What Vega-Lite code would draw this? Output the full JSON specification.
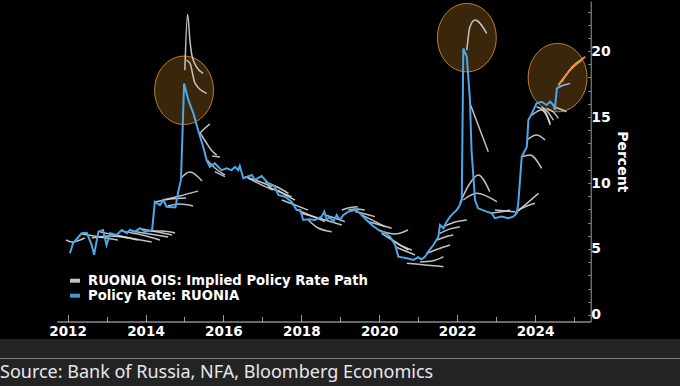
{
  "$schema": "https://vega.github.io/schema/vega-lite/v6.json",
  "background": "#000000",
  "padding": 0,
  "spacing": 0,
  "bounds": "flush",
  "config": {"axis": {"grid": false}, "view": {"stroke": null}},
  "datasets": {
    "highlights": [
      {"year": 2014.99, "rate": 17.03},
      {"year": 2022.25, "rate": 21.02},
      {"year": 2024.58, "rate": 17.99}
    ],
    "ruonia": [
      {"year": 2012.06, "rate": 4.67}, {"year": 2012.14, "rate": 5.43}, {"year": 2012.36, "rate": 6.19}, {"year": 2012.49, "rate": 6.23},
      {"year": 2012.62, "rate": 5.30}, {"year": 2012.68, "rate": 4.55}, {"year": 2012.79, "rate": 6.31}, {"year": 2012.91, "rate": 6.44},
      {"year": 2013.00, "rate": 5.30}, {"year": 2013.09, "rate": 6.19}, {"year": 2013.26, "rate": 6.06}, {"year": 2013.39, "rate": 6.44},
      {"year": 2013.52, "rate": 6.19}, {"year": 2013.60, "rate": 6.44}, {"year": 2013.73, "rate": 6.31}, {"year": 2013.86, "rate": 6.57},
      {"year": 2013.99, "rate": 6.31}, {"year": 2014.12, "rate": 6.39}, {"year": 2014.17, "rate": 6.44}, {"year": 2014.24, "rate": 8.58},
      {"year": 2014.37, "rate": 8.33}, {"year": 2014.46, "rate": 8.71}, {"year": 2014.54, "rate": 8.20}, {"year": 2014.71, "rate": 8.16},
      {"year": 2014.77, "rate": 8.16}, {"year": 2014.84, "rate": 9.34}, {"year": 2014.91, "rate": 10.23}, {"year": 2014.95, "rate": 13.77},
      {"year": 2014.99, "rate": 17.55}, {"year": 2015.10, "rate": 16.29}, {"year": 2015.23, "rate": 15.28}, {"year": 2015.35, "rate": 14.02},
      {"year": 2015.48, "rate": 12.75}, {"year": 2015.57, "rate": 11.74}, {"year": 2015.65, "rate": 11.23}, {"year": 2015.78, "rate": 11.49},
      {"year": 2015.95, "rate": 10.98}, {"year": 2016.08, "rate": 11.11}, {"year": 2016.21, "rate": 10.98}, {"year": 2016.30, "rate": 11.23},
      {"year": 2016.38, "rate": 10.98}, {"year": 2016.42, "rate": 11.29}, {"year": 2016.51, "rate": 10.36}, {"year": 2016.73, "rate": 10.61},
      {"year": 2016.81, "rate": 10.23}, {"year": 2016.98, "rate": 10.53}, {"year": 2017.15, "rate": 9.98}, {"year": 2017.32, "rate": 9.72},
      {"year": 2017.41, "rate": 9.09}, {"year": 2017.58, "rate": 8.96}, {"year": 2017.75, "rate": 8.58}, {"year": 2017.88, "rate": 7.95},
      {"year": 2017.97, "rate": 7.95}, {"year": 2018.05, "rate": 7.20}, {"year": 2018.18, "rate": 7.25}, {"year": 2018.35, "rate": 7.20},
      {"year": 2018.52, "rate": 7.45}, {"year": 2018.59, "rate": 7.83}, {"year": 2018.65, "rate": 7.25}, {"year": 2018.74, "rate": 7.40},
      {"year": 2018.82, "rate": 7.07}, {"year": 2018.91, "rate": 7.58}, {"year": 2018.99, "rate": 7.20}, {"year": 2019.08, "rate": 7.58},
      {"year": 2019.21, "rate": 7.83}, {"year": 2019.38, "rate": 7.95}, {"year": 2019.46, "rate": 7.83}, {"year": 2019.63, "rate": 7.33},
      {"year": 2019.81, "rate": 6.82}, {"year": 2019.98, "rate": 6.44}, {"year": 2020.15, "rate": 6.19}, {"year": 2020.28, "rate": 5.93},
      {"year": 2020.41, "rate": 5.30}, {"year": 2020.49, "rate": 4.42}, {"year": 2020.71, "rate": 4.30}, {"year": 2020.88, "rate": 4.17},
      {"year": 2021.00, "rate": 4.37}, {"year": 2021.09, "rate": 4.22}, {"year": 2021.18, "rate": 4.42}, {"year": 2021.26, "rate": 4.80},
      {"year": 2021.39, "rate": 5.30}, {"year": 2021.52, "rate": 5.93}, {"year": 2021.56, "rate": 6.82}, {"year": 2021.65, "rate": 6.57},
      {"year": 2021.73, "rate": 7.07}, {"year": 2021.82, "rate": 7.45}, {"year": 2021.90, "rate": 7.70}, {"year": 2021.99, "rate": 7.95},
      {"year": 2022.07, "rate": 8.33}, {"year": 2022.12, "rate": 8.71}, {"year": 2022.16, "rate": 20.20}, {"year": 2022.25, "rate": 19.57},
      {"year": 2022.33, "rate": 16.29}, {"year": 2022.37, "rate": 12.50}, {"year": 2022.46, "rate": 8.71}, {"year": 2022.54, "rate": 8.08},
      {"year": 2022.76, "rate": 7.83}, {"year": 2022.89, "rate": 7.70}, {"year": 2022.97, "rate": 7.33}, {"year": 2023.14, "rate": 7.45},
      {"year": 2023.31, "rate": 7.33}, {"year": 2023.44, "rate": 7.45}, {"year": 2023.53, "rate": 7.70}, {"year": 2023.57, "rate": 8.46},
      {"year": 2023.66, "rate": 11.99}, {"year": 2023.79, "rate": 12.75}, {"year": 2023.83, "rate": 14.77}, {"year": 2023.92, "rate": 15.28},
      {"year": 2024.04, "rate": 16.04}, {"year": 2024.17, "rate": 16.16}, {"year": 2024.30, "rate": 15.91}, {"year": 2024.39, "rate": 16.16},
      {"year": 2024.47, "rate": 15.91}, {"year": 2024.51, "rate": 15.53}, {"year": 2024.56, "rate": 17.17}, {"year": 2024.64, "rate": 17.30},
      {"year": 2024.73, "rate": 17.42}
    ],
    "latest": [
      {"year": 2024.60, "rate": 17.42}, {"year": 2024.94, "rate": 18.69}, {"year": 2025.29, "rate": 19.57}
    ],
    "ois": [
      {"path": "g1", "year": 2011.96, "rate": 5.68}, {"path": "g1", "year": 2012.11, "rate": 5.53}, {"path": "g1", "year": 2012.44, "rate": 5.83},
      {"path": "g2", "year": 2012.37, "rate": 6.14}, {"path": "g2", "year": 2012.83, "rate": 5.91}, {"path": "g2", "year": 2013.29, "rate": 5.68},
      {"path": "g3", "year": 2012.62, "rate": 5.83}, {"path": "g3", "year": 2013.09, "rate": 5.98}, {"path": "g3", "year": 2013.55, "rate": 5.83},
      {"path": "g4", "year": 2012.83, "rate": 6.29}, {"path": "g4", "year": 2013.34, "rate": 5.98}, {"path": "g4", "year": 2013.80, "rate": 5.68},
      {"path": "g5", "year": 2013.09, "rate": 6.14}, {"path": "g5", "year": 2013.60, "rate": 5.83}, {"path": "g5", "year": 2014.16, "rate": 5.53},
      {"path": "g6", "year": 2013.39, "rate": 6.36}, {"path": "g6", "year": 2013.91, "rate": 6.06}, {"path": "g6", "year": 2014.37, "rate": 5.68},
      {"path": "g7", "year": 2013.65, "rate": 6.36}, {"path": "g7", "year": 2014.11, "rate": 6.14}, {"path": "g7", "year": 2014.58, "rate": 5.91},
      {"path": "g8", "year": 2013.91, "rate": 6.52}, {"path": "g8", "year": 2014.32, "rate": 6.29}, {"path": "g8", "year": 2014.68, "rate": 6.06},
      {"path": "g9", "year": 2014.11, "rate": 6.36}, {"path": "g9", "year": 2014.42, "rate": 6.36}, {"path": "g9", "year": 2014.76, "rate": 6.21},
      {"path": "g10", "year": 2014.24, "rate": 8.56}, {"path": "g10", "year": 2014.63, "rate": 8.79}, {"path": "g10", "year": 2015.04, "rate": 8.86},
      {"path": "g11", "year": 2014.45, "rate": 8.71}, {"path": "g11", "year": 2014.88, "rate": 9.02}, {"path": "g11", "year": 2015.35, "rate": 9.39},
      {"path": "g12", "year": 2014.57, "rate": 8.26}, {"path": "g12", "year": 2014.88, "rate": 8.41}, {"path": "g12", "year": 2015.22, "rate": 8.26},
      {"path": "g13", "year": 2014.91, "rate": 10.38}, {"path": "g13", "year": 2015.14, "rate": 10.83}, {"path": "g13", "year": 2015.45, "rate": 10.15},
      {"path": "g14", "year": 2015.01, "rate": 18.56}, {"path": "g14", "year": 2015.08, "rate": 22.80}, {"path": "g14", "year": 2015.14, "rate": 20.83},
      {"path": "g14", "year": 2015.19, "rate": 19.70}, {"path": "g14", "year": 2015.31, "rate": 18.81}, {"path": "g14", "year": 2015.48, "rate": 18.31},
      {"path": "g15", "year": 2015.05, "rate": 19.32}, {"path": "g15", "year": 2015.14, "rate": 19.09}, {"path": "g15", "year": 2015.27, "rate": 17.58}, {"path": "g15", "year": 2015.57, "rate": 16.80},
      {"path": "g16", "year": 2015.40, "rate": 13.79}, {"path": "g16", "year": 2015.53, "rate": 14.17}, {"path": "g16", "year": 2015.65, "rate": 14.47},
      {"path": "g17", "year": 2015.40, "rate": 13.79}, {"path": "g17", "year": 2015.55, "rate": 13.11}, {"path": "g17", "year": 2015.71, "rate": 12.42}, {"path": "g17", "year": 2015.83, "rate": 12.12},
      {"path": "g18", "year": 2015.58, "rate": 11.74}, {"path": "g18", "year": 2015.78, "rate": 11.14}, {"path": "g18", "year": 2016.04, "rate": 10.61},
      {"path": "g19", "year": 2015.71, "rate": 12.05}, {"path": "g19", "year": 2015.91, "rate": 11.97},
      {"path": "g20", "year": 2015.78, "rate": 10.86}, {"path": "g20", "year": 2016.04, "rate": 10.48},
      {"path": "g21", "year": 2016.55, "rate": 10.48}, {"path": "g21", "year": 2016.89, "rate": 10.15}, {"path": "g21", "year": 2017.24, "rate": 9.72},
      {"path": "g22", "year": 2016.63, "rate": 10.38}, {"path": "g22", "year": 2016.94, "rate": 9.92}, {"path": "g22", "year": 2017.27, "rate": 9.47},
      {"path": "g23", "year": 2017.07, "rate": 10.10}, {"path": "g23", "year": 2017.38, "rate": 9.70}, {"path": "g23", "year": 2017.67, "rate": 9.22},
      {"path": "g24", "year": 2017.14, "rate": 9.72}, {"path": "g24", "year": 2017.45, "rate": 9.32}, {"path": "g24", "year": 2017.75, "rate": 8.96},
      {"path": "g25", "year": 2017.40, "rate": 9.47}, {"path": "g25", "year": 2017.63, "rate": 9.02}, {"path": "g25", "year": 2017.84, "rate": 8.71},
      {"path": "g26", "year": 2017.50, "rate": 8.71}, {"path": "g26", "year": 2017.84, "rate": 8.33}, {"path": "g26", "year": 2018.17, "rate": 7.95},
      {"path": "g27", "year": 2017.91, "rate": 7.95}, {"path": "g27", "year": 2018.27, "rate": 7.50}, {"path": "g27", "year": 2018.61, "rate": 7.07},
      {"path": "g28", "year": 2018.01, "rate": 7.70}, {"path": "g28", "year": 2018.53, "rate": 7.27}, {"path": "g28", "year": 2019.04, "rate": 6.82},
      {"path": "g29", "year": 2018.18, "rate": 7.20}, {"path": "g29", "year": 2018.43, "rate": 6.59}, {"path": "g29", "year": 2018.78, "rate": 6.31},
      {"path": "g30", "year": 2018.61, "rate": 7.58}, {"path": "g30", "year": 2018.86, "rate": 7.35}, {"path": "g30", "year": 2019.12, "rate": 7.07},
      {"path": "g31", "year": 2019.04, "rate": 7.95}, {"path": "g31", "year": 2019.20, "rate": 8.11}, {"path": "g31", "year": 2019.45, "rate": 8.20},
      {"path": "g32", "year": 2019.21, "rate": 7.95}, {"path": "g32", "year": 2019.41, "rate": 8.03}, {"path": "g32", "year": 2019.63, "rate": 7.95},
      {"path": "g33", "year": 2019.38, "rate": 7.83}, {"path": "g33", "year": 2019.64, "rate": 7.65}, {"path": "g33", "year": 2019.89, "rate": 7.45},
      {"path": "g34", "year": 2019.55, "rate": 7.58}, {"path": "g34", "year": 2019.81, "rate": 7.20}, {"path": "g34", "year": 2020.15, "rate": 6.69},
      {"path": "g35", "year": 2019.72, "rate": 7.07}, {"path": "g35", "year": 2020.02, "rate": 6.82}, {"path": "g35", "year": 2020.32, "rate": 6.57},
      {"path": "g36", "year": 2019.97, "rate": 6.44}, {"path": "g36", "year": 2020.41, "rate": 6.14}, {"path": "g36", "year": 2020.74, "rate": 6.44},
      {"path": "g37", "year": 2020.06, "rate": 6.19}, {"path": "g37", "year": 2020.41, "rate": 5.53}, {"path": "g37", "year": 2020.75, "rate": 4.92},
      {"path": "g38", "year": 2020.23, "rate": 5.93}, {"path": "g38", "year": 2020.53, "rate": 5.30}, {"path": "g38", "year": 2020.84, "rate": 4.92},
      {"path": "g39", "year": 2020.41, "rate": 5.17}, {"path": "g39", "year": 2020.67, "rate": 4.85}, {"path": "g39", "year": 2020.92, "rate": 4.55},
      {"path": "g40", "year": 2020.71, "rate": 3.92}, {"path": "g40", "year": 2021.18, "rate": 3.79}, {"path": "g40", "year": 2021.65, "rate": 3.66},
      {"path": "g41", "year": 2021.05, "rate": 4.02}, {"path": "g41", "year": 2021.36, "rate": 4.09}, {"path": "g41", "year": 2021.65, "rate": 4.42},
      {"path": "g42", "year": 2021.22, "rate": 4.67}, {"path": "g42", "year": 2021.51, "rate": 5.00}, {"path": "g42", "year": 2021.82, "rate": 5.30},
      {"path": "g43", "year": 2021.48, "rate": 5.68}, {"path": "g43", "year": 2021.69, "rate": 5.91}, {"path": "g43", "year": 2021.90, "rate": 6.06},
      {"path": "g44", "year": 2021.56, "rate": 6.19}, {"path": "g44", "year": 2021.82, "rate": 6.52}, {"path": "g44", "year": 2022.07, "rate": 6.69},
      {"path": "g45", "year": 2021.65, "rate": 6.69}, {"path": "g45", "year": 2021.95, "rate": 7.05}, {"path": "g45", "year": 2022.25, "rate": 7.20},
      {"path": "g46", "year": 2022.07, "rate": 8.46}, {"path": "g46", "year": 2022.33, "rate": 9.98}, {"path": "g46", "year": 2022.54, "rate": 10.61}, {"path": "g46", "year": 2022.84, "rate": 9.34},
      {"path": "g47", "year": 2022.16, "rate": 8.71}, {"path": "g47", "year": 2022.50, "rate": 9.22}, {"path": "g47", "year": 2023.02, "rate": 8.58},
      {"path": "g48", "year": 2022.33, "rate": 16.04}, {"path": "g48", "year": 2022.54, "rate": 14.39}, {"path": "g48", "year": 2022.80, "rate": 12.37},
      {"path": "g49", "year": 2022.25, "rate": 20.08}, {"path": "g49", "year": 2022.33, "rate": 21.84}, {"path": "g49", "year": 2022.46, "rate": 22.35}, {"path": "g49", "year": 2022.76, "rate": 21.34},
      {"path": "g50", "year": 2022.84, "rate": 7.70}, {"path": "g50", "year": 2023.10, "rate": 7.80}, {"path": "g50", "year": 2023.36, "rate": 7.95},
      {"path": "g51", "year": 2022.97, "rate": 7.95}, {"path": "g51", "year": 2023.23, "rate": 7.88}, {"path": "g51", "year": 2023.49, "rate": 7.83},
      {"path": "g52", "year": 2023.49, "rate": 7.70}, {"path": "g52", "year": 2023.80, "rate": 8.48}, {"path": "g52", "year": 2024.09, "rate": 9.22},
      {"path": "g53", "year": 2023.57, "rate": 7.95}, {"path": "g53", "year": 2023.79, "rate": 8.26}, {"path": "g53", "year": 2024.00, "rate": 8.46},
      {"path": "g54", "year": 2023.66, "rate": 11.99}, {"path": "g54", "year": 2023.87, "rate": 12.12}, {"path": "g54", "year": 2024.17, "rate": 11.11},
      {"path": "g55", "year": 2023.79, "rate": 13.26}, {"path": "g55", "year": 2024.04, "rate": 13.64}, {"path": "g55", "year": 2024.26, "rate": 13.26},
      {"path": "g56", "year": 2023.92, "rate": 15.15}, {"path": "g56", "year": 2024.17, "rate": 15.53}, {"path": "g56", "year": 2024.39, "rate": 14.52},
      {"path": "g57", "year": 2024.04, "rate": 15.78}, {"path": "g57", "year": 2024.26, "rate": 15.40}, {"path": "g57", "year": 2024.39, "rate": 14.39},
      {"path": "g58", "year": 2024.17, "rate": 15.78}, {"path": "g58", "year": 2024.33, "rate": 15.38}, {"path": "g58", "year": 2024.47, "rate": 14.77},
      {"path": "g59", "year": 2024.30, "rate": 15.66}, {"path": "g59", "year": 2024.47, "rate": 15.38}, {"path": "g59", "year": 2024.60, "rate": 14.90},
      {"path": "g60", "year": 2024.47, "rate": 15.78}, {"path": "g60", "year": 2024.64, "rate": 15.61}, {"path": "g60", "year": 2024.81, "rate": 15.40},
      {"path": "g61", "year": 2024.60, "rate": 17.30}, {"path": "g61", "year": 2024.74, "rate": 17.42}, {"path": "g61", "year": 2024.90, "rate": 17.55},
      {"path": "g62", "year": 2024.64, "rate": 17.55}, {"path": "g62", "year": 2024.90, "rate": 18.56}, {"path": "g62", "year": 2025.20, "rate": 19.32},
      {"path": "g63", "year": 2024.69, "rate": 17.67}, {"path": "g63", "year": 2024.95, "rate": 18.79}, {"path": "g63", "year": 2025.24, "rate": 19.45}
    ],
    "footer": [
      {"source": "Source: Bank of Russia, NFA, Bloomberg Economics"}
    ]
  },
  "vconcat": [
    {
      "width": 680,
      "height": 339,
      "view": {"fill": "#000000", "stroke": null},
      "resolve": {"axis": {"x": "independent", "y": "independent"}},
      "layer": [
        {
          "data": {"name": "highlights"},
          "mark": {
            "type": "point",
            "shape": "M -0.86 0 A 0.86 1 0 1 0 0.86 0 A 0.86 1 0 1 0 -0.86 0 Z",
            "size": 4680,
            "filled": true,
            "fill": "#e8962c",
            "fillOpacity": 0.25,
            "stroke": "#d08a38",
            "strokeWidth": 1,
            "strokeOpacity": 0.9
          },
          "encoding": {
            "x": {
              "field": "year", "type": "quantitative",
              "scale": {"domain": [2011.72, 2025.43], "range": [56.7, 590.7], "nice": false, "zero": false},
              "axis": {
                "orient": "bottom", "offset": -17.5,
                "values": [2013, 2015, 2017, 2019, 2021, 2023, 2025],
                "tickSize": -5, "tickColor": "#9a9a9a", "labels": false, "domain": false, "grid": false, "title": null
              }
            },
            "y": {
              "field": "rate", "type": "quantitative",
              "scale": {"domain": [-0.5, 23.8], "range": [321.5, 1], "nice": false, "zero": false},
              "axis": {
                "orient": "right", "offset": -89.3,
                "values": [0, 5, 10, 15, 20],
                "labelOverlap": false,
                "tickSize": -3, "tickColor": "#8a8a8a", "domainColor": "#9a9a9a",
                "labelColor": "#ffffff", "labelFont": "DejaVu Sans", "labelFontWeight": "bold", "labelFontSize": 14,
                "labelPadding": 3, "labelFlush": false,
                "grid": false,
                "title": "Percent", "titleColor": "#ffffff", "titleFont": "DejaVu Sans", "titleFontWeight": "bold",
                "titleFontSize": 14, "titleAngle": 90, "titlePadding": 4
              }
            }
          }
        },
        {
          "data": {"name": "ois"},
          "mark": {"type": "line", "strokeWidth": 1.5, "opacity": 0.9, "interpolate": "monotone"},
          "encoding": {
            "x": {
              "field": "year", "type": "quantitative",
              "axis": {
                "orient": "bottom", "offset": -17.5,
                "values": [2012, 2014, 2016, 2018, 2020, 2022, 2024],
                "format": "d",
                "tickSize": -7, "tickColor": "#9a9a9a", "domainColor": "#cfcfcf",
                "labelColor": "#ffffff", "labelFont": "DejaVu Sans", "labelFontWeight": "bold", "labelFontSize": 13.5,
                "labelPadding": 10, "labelOverlap": false, "labelFlush": false,
                "grid": false, "title": null
              }
            },
            "y": {
              "field": "rate", "type": "quantitative",
              "axis": {
                "orient": "right", "offset": -89.3,
                "values": [1, 2, 3, 4, 6, 7, 8, 9, 11, 12, 13, 14, 16, 17, 18, 19, 21, 22, 23],
                "tickSize": -3, "tickColor": "#8a8a8a", "labels": false, "domain": false, "grid": false, "title": null
              }
            },
            "detail": {"field": "path"},
            "color": {
              "datum": "RUONIA OIS: Implied Policy Rate Path",
              "scale": {
                "domain": ["RUONIA OIS: Implied Policy Rate Path", "Policy Rate: RUONIA"],
                "range": ["#d6d6d6", "#4ea7e6"]
              },
              "legend": {
                "orient": "none", "legendX": 68, "legendY": 274,
                "title": null, "padding": 0,
                "symbolType": "stroke", "symbolSize": 100, "symbolStrokeWidth": 4,
                "labelFont": "DejaVu Sans", "labelFontWeight": "bold", "labelFontSize": 13.2,
                "labelColor": "#ffffff", "labelOffset": 6, "rowPadding": 0, "clipHeight": 13.4, "labelLimit": 400
              }
            }
          }
        },
        {
          "data": {"name": "latest"},
          "mark": {"type": "line", "strokeWidth": 2, "color": "#e8922e", "interpolate": "monotone"},
          "encoding": {
            "x": {"field": "year", "type": "quantitative", "axis": null},
            "y": {"field": "rate", "type": "quantitative", "axis": null}
          }
        },
        {
          "data": {"name": "ruonia"},
          "mark": {"type": "line", "strokeWidth": 2},
          "encoding": {
            "x": {"field": "year", "type": "quantitative", "axis": null},
            "y": {"field": "rate", "type": "quantitative", "axis": null},
            "color": {"datum": "Policy Rate: RUONIA"}
          }
        }
      ]
    },
    {
      "width": 680,
      "height": 47,
      "view": {"fill": "#232323", "stroke": null},
      "data": {"name": "footer"},
      "mark": {
        "type": "text", "align": "left", "baseline": "alphabetic",
        "font": "Noto Sans", "fontSize": 18, "color": "#e8e8ee", "dy": 15.5
      },
      "encoding": {
        "text": {"field": "source"},
        "x": {
          "datum": 0, "type": "quantitative",
          "scale": {"domain": [0, 1], "nice": false, "zero": false},
          "axis": {
            "orient": "top", "offset": -19, "domain": true, "domainColor": "#dcdcdc",
            "domainDash": [1, 1], "domainWidth": 1, "ticks": false, "labels": false, "grid": false, "title": null
          }
        }
      }
    }
  ]
}
